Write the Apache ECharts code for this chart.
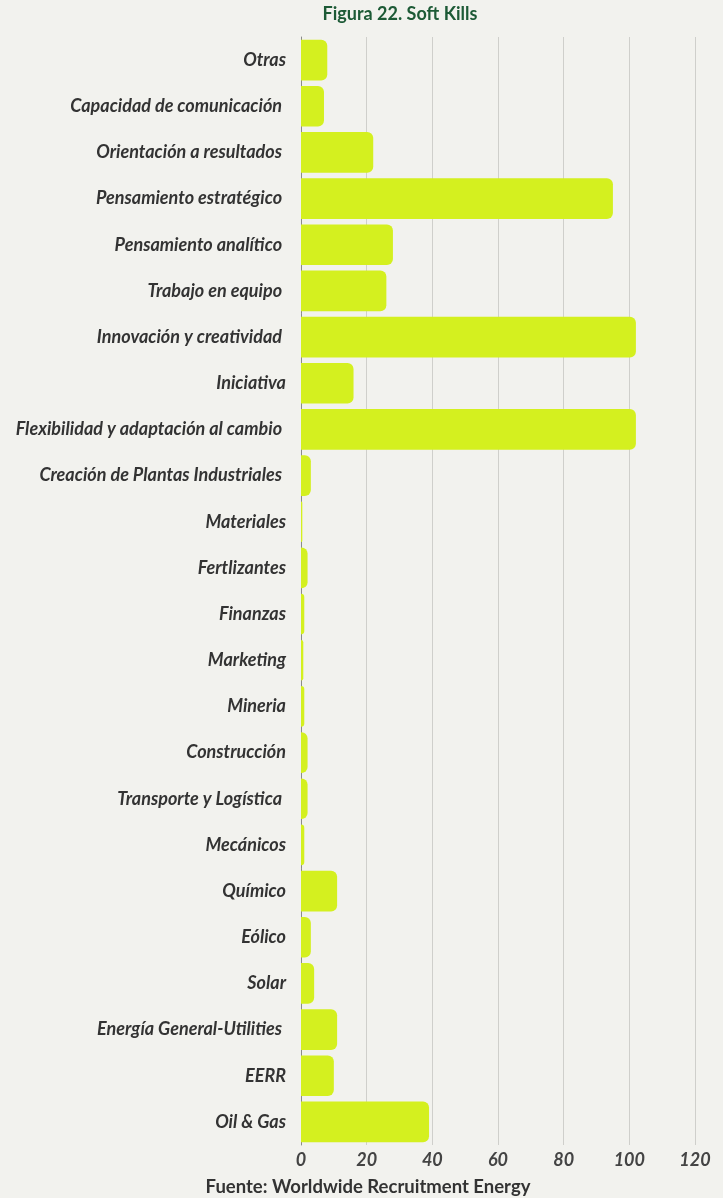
<!DOCTYPE html>
<html>
<head>
<meta charset="utf-8">
<script src="https://cdn.jsdelivr.net/npm/echarts@6/dist/echarts.min.js"></script>
<style>
  html, body { margin: 0; padding: 0; background: #f2f2ee; }
  #chart { width: 723px; height: 1198px; }
</style>
</head>
<body>
<div id="chart"></div>
<script>
// Categories listed bottom-to-top (category axis starts at the bottom)
const categories = [
  'Oil & Gas', 'EERR', 'Energía General-Utilities ', 'Solar', 'Eólico', 'Químico',
  'Mecánicos', 'Transporte y Logística ', 'Construcción', 'Mineria', 'Marketing',
  'Finanzas', 'Fertlizantes', 'Materiales', 'Creación de Plantas Industriales ',
  'Flexibilidad y adaptación al cambio ', 'Iniciativa', 'Innovación y creatividad ',
  'Trabajo en equipo ', 'Pensamiento analítico ', 'Pensamiento estratégico ',
  'Orientación a resultados ', 'Capacidad de comunicación ', 'Otras'
];
const counts = [
  39, 10, 11, 4, 3, 11,
  1, 2, 2, 1, 0.7,
  1, 2, 0.4, 3,
  102, 16, 102,
  26, 28, 95,
  22, 7, 8
];
const xTicks = [0, 20, 40, 60, 80, 100, 120];

const chart = echarts.init(document.getElementById('chart'));
chart.setOption({
  backgroundColor: '#f2f2ee',
  textStyle: { fontFamily: 'Lato' },
  title: [
    {
      text: 'Figura 22. Soft Kills',
      left: 400, top: 5, padding: 0, textAlign: 'center',
      textStyle: { fontFamily: 'Lato', fontWeight: 'bold', fontSize: 18, color: '#1d5a36' }
    },
    {
      text: 'Fuente: Worldwide Recruitment Energy',
      left: 368, top: 1178, padding: 0, textAlign: 'center',
      textStyle: { fontFamily: 'Lato', fontWeight: 'bold', fontSize: 18.5, color: '#333333' }
    }
  ],
  grid: { left: 301, right: 28, top: 37, bottom: 53 },
  xAxis: {
    type: 'value',
    min: xTicks[0], max: xTicks[xTicks.length - 1], interval: 20,
    axisLine: { show: false },
    axisTick: { show: false },
    splitLine: { show: true, lineStyle: { color: '#cfcfcb', width: 1 } },
    axisLabel: {
      margin: 6, fontFamily: 'Lato', fontStyle: 'italic', fontWeight: 'bold',
      fontSize: 18, color: '#444444'
    }
  },
  yAxis: {
    type: 'category',
    data: categories,
    axisLine: { show: true, lineStyle: { color: '#8a8a8a', width: 1 } },
    axisTick: { show: false },
    axisLabel: {
      margin: 15, fontFamily: 'Lato', fontStyle: 'italic', fontWeight: 'bold',
      fontSize: 18, color: '#333333'
    }
  },
  series: [{
    type: 'bar',
    data: counts,
    barCategoryGap: '12%',
    itemStyle: { color: '#d4f01f', borderRadius: [0, 6, 6, 0] },
    z: 3
  }]
});
</script>
</body>
</html>
